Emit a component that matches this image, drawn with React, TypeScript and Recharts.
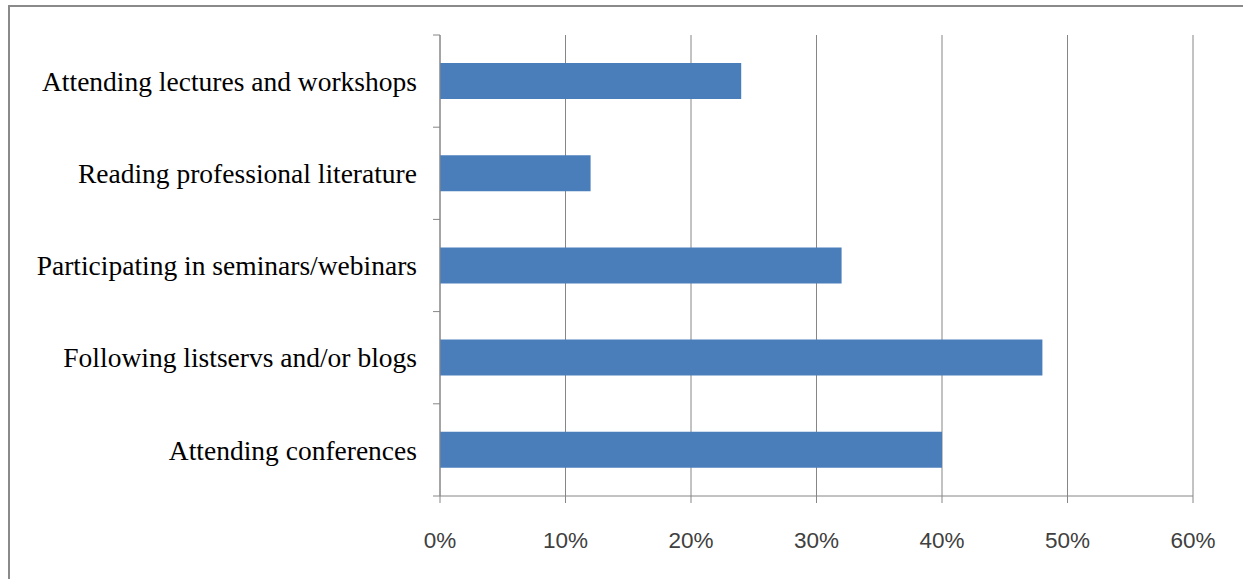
import { Bar, BarChart, CartesianGrid, XAxis, YAxis } from "recharts";

const activities = [
  "Attending lectures and workshops",
  "Reading professional literature",
  "Participating in seminars/webinars",
  "Following listservs and/or blogs",
  "Attending conferences",
];
const shares = [24, 12, 32, 48, 40];
const percentTicks = [0, 10, 20, 30, 40, 50, 60];

const data = activities.map((label, i) => ({ label, value: shares[i] }));

const gray = "#868686";

function PercentTick({ x, y, payload }: { x?: number; y?: number; payload?: { value: number } }) {
  return (
    <text x={x} y={(y ?? 0) + 45} textAnchor="middle" fill="#404040" fontSize={22.5} fontFamily="'Liberation Sans', Arial, sans-serif">
      {`${payload?.value}%`}
    </text>
  );
}

// Excel puts the category tick marks on the band edges, not the centres
function ActivityTick({ x, y, payload, index }: { x?: number; y?: number; payload?: { value: string; offset?: number }; index?: number }) {
  const cx = x ?? 0;
  const cy = y ?? 0;
  const half = payload?.offset ?? 0;
  return (
    <g>
      <line x1={cx + 16} x2={cx + 23} y1={cy - half} y2={cy - half} stroke={gray} />
      {index === activities.length - 1 && <line x1={cx + 16} x2={cx + 23} y1={cy + half} y2={cy + half} stroke={gray} />}
      <text x={cx} y={cy} dy="0.35em" textAnchor="end" fill="#000" fontSize={27.5} fontFamily="'Liberation Serif', 'Times New Roman', serif">
        {payload?.value}
      </text>
    </g>
  );
}

export default function App() {
  return (
    <div style={{ position: "absolute", left: 0, top: 0, width: 1243, height: 579, overflow: "hidden", background: "#fff" }}>
      <div style={{ position: "absolute", left: 8, top: 5, width: 1260, height: 620, border: "2px solid #8a8a8a" }} />
      <div style={{ position: "absolute", left: 0, top: 0 }}>
        <BarChart width={1243} height={579} data={data} layout="vertical" margin={{ top: 35, right: 50, bottom: 23, left: 0 }}>
          <CartesianGrid stroke={gray} horizontal={false} />
          <XAxis
            type="number"
            domain={[0, 60]}
            ticks={percentTicks}
            height={60}
            interval={0}
            stroke={gray}
            tickSize={7}
            tickMargin={0}
            tick={<PercentTick />}
          />
          <YAxis
            type="category"
            dataKey="label"
            width={440}
            stroke={gray}
            tickLine={false}
            tickSize={7}
            tickMargin={16}
            interval={0}
            tick={<ActivityTick />}
          />
          <Bar dataKey="value" fill="#4a7ebb" barSize={36} isAnimationActive={false} />
        </BarChart>
      </div>
    </div>
  );
}
